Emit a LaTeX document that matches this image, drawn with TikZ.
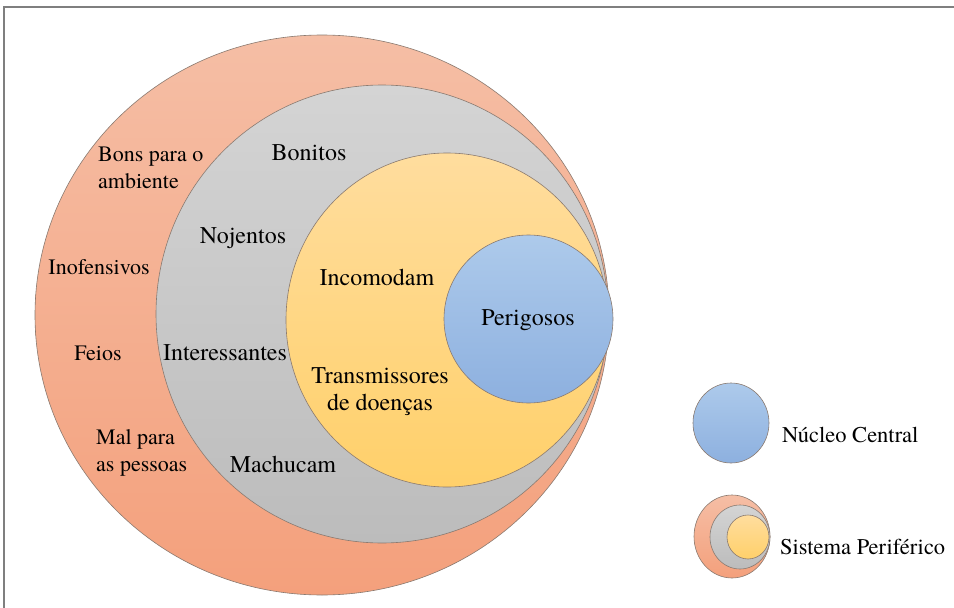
\documentclass[tikz,border=0pt]{standalone}
\usepackage{fontspec}
\setmainfont{TeX Gyre Termes}
\newfontfamily\tnr{TeX Gyre Termes}
\definecolor{salT}{HTML}{F5BEA5}
\definecolor{salB}{HTML}{F4A07C}
\definecolor{grT}{HTML}{D4D4D4}
\definecolor{grB}{HTML}{BCBCBC}
\definecolor{yeT}{HTML}{FFDD9E}
\definecolor{yeB}{HTML}{FFD06A}
\definecolor{blT}{HTML}{ADCAEB}
\definecolor{blB}{HTML}{8DB0DF}
\definecolor{edge}{HTML}{8A7A70}
\definecolor{frame}{HTML}{7F7F7F}
\tikzset{
  ring/.style={draw=edge, line width=0.6pt},
  salfill/.style={ring, top color=salT, bottom color=salB},
  grfill/.style={ring, top color=grT, bottom color=grB},
  yefill/.style={ring, top color=yeT, bottom color=yeB},
  blfill/.style={ring, top color=blT, bottom color=blB},
  lbl/.style={font=\tnr\fontsize{24}{27}\selectfont, text=black, inner sep=0pt},
  lbls/.style={font=\tnr\fontsize{22}{27}\selectfont, text=black, inner sep=0pt},
  leg/.style={font=\tnr\fontsize{22.5}{26}\selectfont, text=black, inner sep=0pt, anchor=west}
}
\begin{document}
\begin{tikzpicture}[x=1pt, y=-1pt]
\useasboundingbox (0,0) rectangle (954,608);
\fill[white] (0,0) rectangle (954,608);
% frame
\draw[frame, line width=1.2pt] (4,608) -- (4,7) -- (954,7);
% main circles
\shade[salfill] (322,315) ellipse [x radius=287pt, y radius=280pt];
\shade[grfill] (382,314) ellipse [x radius=226pt, y radius=229pt];
\shade[yefill] (447,320) ellipse [x radius=161pt, y radius=167pt];
\shade[blfill] (528.5,319) ellipse [x radius=84.5pt, y radius=84pt];
% labels
\node[lbls, anchor=west, align=left] (bons) at (98,168) {Bons para o\\ambiente};
\node[lbl] (bonitos) at (309,153) {Bonitos};
\node[lbl] (nojentos) at (243,238) {Nojentos};
\node[lbls] (inof) at (99,267) {Inofensivos};
\node[lbl] (incom) at (377,277) {Incomodam};
\node[lbl] (perig) at (528,320) {Perigosos};
\node[lbls] (feios) at (98,353) {Feios};
\node[lbl] (inter) at (225,353) {Interessantes};
\node[lbl, align=center] (trans) at (380,392) {Transmissores\\de doenças};
\node[lbls, anchor=west, align=left] (mal) at (96,453) {Mal para\\as pessoas};
\node[lbl] (mach) at (283,464) {Machucam};
% legend
\shade[blfill] (731,423) ellipse [x radius=38pt, y radius=40pt];
\node[leg] (nc) at (782,435) {Núcleo Central};
\shade[salfill] (732,536.5) ellipse [x radius=38pt, y radius=41.5pt];
\shade[grfill] (740,537) ellipse [x radius=30pt, y radius=32pt];
\shade[yefill] (748,537) ellipse [x radius=21pt, y radius=22pt];
\node[leg] (sp) at (780,547) {Sistema Periférico};
\end{tikzpicture}
\end{document}
